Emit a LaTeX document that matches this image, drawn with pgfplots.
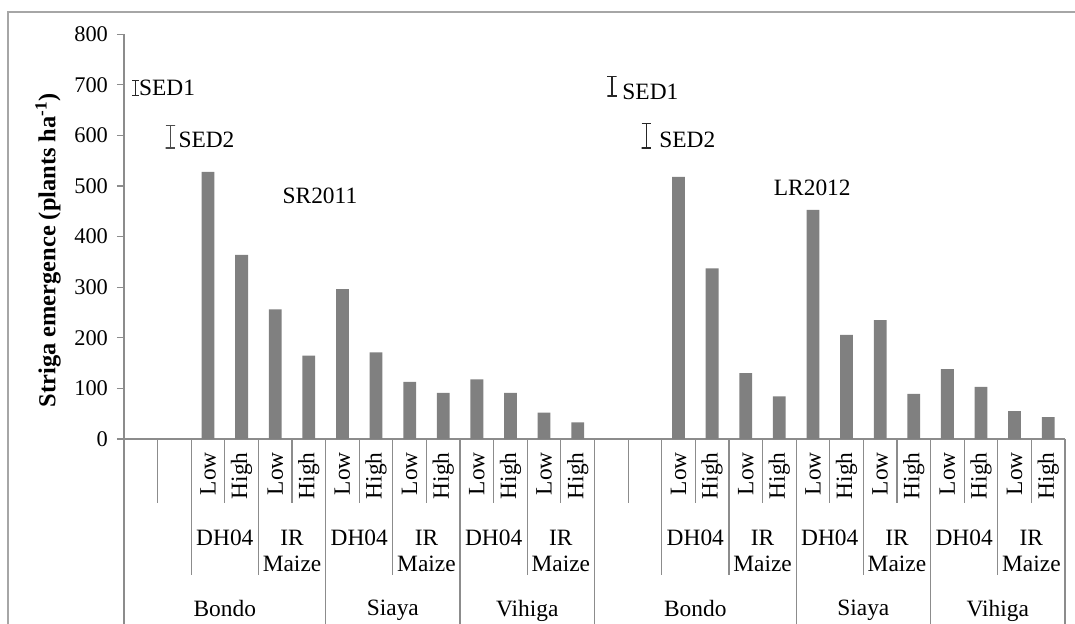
\documentclass[border=0pt]{standalone}
\usepackage{fontspec}
\setmainfont{Liberation Serif}
\usepackage{pgfplots}
\pgfplotsset{compat=1.18}
\definecolor{barfill}{HTML}{808080}
\definecolor{axisgray}{HTML}{8C8C8C}
\definecolor{framegray}{HTML}{A6A6A6}
% 1 px of the layout grid = 0.5pt
\newcommand{\lvlA}{-32pt}   % Low / High separators
\newcommand{\lvlB}{-68pt}   % variety separators
\newcommand{\lvlC}{-92.5pt} % site separators (to the bottom edge)
\begin{document}
\begin{tikzpicture}[font=\fontsize{11.7}{13}\selectfont]
% outer frame (left and top edges)
\draw[framegray, line width=0.8pt] (4pt,-312pt) -- (4pt,-6pt) -- (537.5pt,-6pt);
\begin{axis}[
  at={(62pt,-219.5pt)}, anchor=south west,
  scale only axis, width=470.5pt, height=202.4pt,
  xmin=-0.5, xmax=27.5, ymin=0, ymax=800,
  axis lines=left, axis line style={-, axisgray, line width=0.6pt},
  xtick=\empty,
  ytick={0,100,...,800},
  tick align=outside, major tick length=3.5pt,
  ytick style={axisgray, line width=0.6pt},
  yticklabel style={font=\fontsize{11.2}{13}\selectfont, xshift=-1pt},
  /pgf/number format/assume math mode=true,
  clip=false,
]
% Striga emergence, SR2011 (slots 2-13) and LR2012 (slots 16-27)
\addplot[ybar, bar width=6.4pt, fill=barfill, draw=none, bar shift=0pt] coordinates {
  (2,528) (3,364) (4,256) (5,165) (6,296) (7,171)
  (8,113) (9,91) (10,118) (11,91) (12,52) (13,33)
  (16,518) (17,337) (18,130) (19,84) (20,453) (21,206)
  (22,235) (23,89) (24,138) (25,103) (26,55) (27,43)
};
% standard errors of the difference, drawn as capped bars
% SR2011 SED1: centre 694, +-15
\addplot[black!85, line width=0.6pt, mark=none] coordinates {
  (-0.26,709) (-0.06,709) (-0.16,709) (-0.16,679) (-0.26,679) (-0.06,679)};
% SR2011 SED2: centre 597, +-22
\addplot[black!70, line width=0.6pt, mark=none] coordinates {
  (0.74,619) (1.02,619) (0.88,619) (0.88,575) (0.74,575) (1.02,575)};
% LR2012 SED1: centre 697, +-19
\addplot[black!85, line width=0.6pt, mark=none] coordinates {
  (13.88,716) (14.16,716) (14.02,716) (14.02,678) (13.88,678) (14.16,678)};
% LR2012 SED2: centre 599, +-24
\addplot[black!85, line width=0.6pt, mark=none] coordinates {
  (14.90,623) (15.18,623) (15.04,623) (15.04,575) (14.90,575) (15.18,575)};
\node[anchor=west, inner sep=0pt] at (axis cs:-0.06,694) {SED1};
\node[anchor=west, inner sep=0pt] at (axis cs:1.11,591) {SED2};
\node[anchor=west, inner sep=0pt] at (axis cs:14.32,686) {SED1};
\node[anchor=west, inner sep=0pt] at (axis cs:15.42,591) {SED2};
\node[inner sep=0pt] at (axis cs:5.33,480) {SR2011};
\node[inner sep=0pt] at (axis cs:19.98,496) {LR2012};
% category separators
\pgfplotsinvokeforeach{0.5,2.5,4.5,6.5,8.5,10.5,12.5,14.5,16.5,18.5,20.5,22.5,24.5,26.5}{
  \draw[axisgray, line width=0.6pt] (axis cs:#1,0) -- ([yshift=\lvlA]axis cs:#1,0);
}
\pgfplotsinvokeforeach{1.5,3.5,7.5,11.5,15.5,17.5,21.5,25.5}{
  \draw[axisgray, line width=0.6pt] (axis cs:#1,0) -- ([yshift=\lvlB]axis cs:#1,0);
}
\pgfplotsinvokeforeach{-0.5,5.5,9.5,13.5,19.5,23.5,27.5}{
  \draw[axisgray, line width=0.6pt] (axis cs:#1,0) -- ([yshift=\lvlC]axis cs:#1,0);
}
% nitrogen level labels
\pgfplotsinvokeforeach{2,4,6,8,10,12,16,18,20,22,24,26}{
  \node[rotate=90, anchor=east, inner sep=0pt] at ([yshift=-6.5pt]axis cs:#1,0) {Low};
}
\pgfplotsinvokeforeach{3,5,7,9,11,13,17,19,21,23,25,27}{
  \node[rotate=90, anchor=east, inner sep=0pt] at ([yshift=-6.5pt]axis cs:#1,0) {High};
}
% variety labels
\pgfplotsinvokeforeach{2.5,6.5,10.5,16.5,20.5,24.5}{
  \node[anchor=north, inner sep=0pt] at ([yshift=-45.5pt]axis cs:#1,0) {DH04};
}
\pgfplotsinvokeforeach{4.5,8.5,12.5,18.5,22.5,26.5}{
  \node[anchor=north, inner sep=0pt, align=center] at ([yshift=-45.5pt]axis cs:#1,0) {IR\\Maize};
}
% site labels
\node[anchor=north, inner sep=0pt] at ([yshift=-80.5pt]axis cs:2.5,0) {Bondo};
\node[anchor=north, inner sep=0pt] at ([yshift=-80.5pt]axis cs:7.5,0) {Siaya};
\node[anchor=north, inner sep=0pt] at ([yshift=-80.5pt]axis cs:11.5,0) {Vihiga};
\node[anchor=north, inner sep=0pt] at ([yshift=-80.5pt]axis cs:16.5,0) {Bondo};
\node[anchor=north, inner sep=0pt] at ([yshift=-80.5pt]axis cs:21.5,0) {Siaya};
\node[anchor=north, inner sep=0pt] at ([yshift=-80.5pt]axis cs:25.5,0) {Vihiga};
\end{axis}
\node[rotate=90, font=\fontsize{12.2}{14}\selectfont\bfseries] at (24pt,-125pt)
  {Striga emergence (plants ha\textsuperscript{-1})};
\pgfresetboundingbox
\useasboundingbox (0,0) rectangle (537.5pt,-312pt);
\end{tikzpicture}
\end{document}
